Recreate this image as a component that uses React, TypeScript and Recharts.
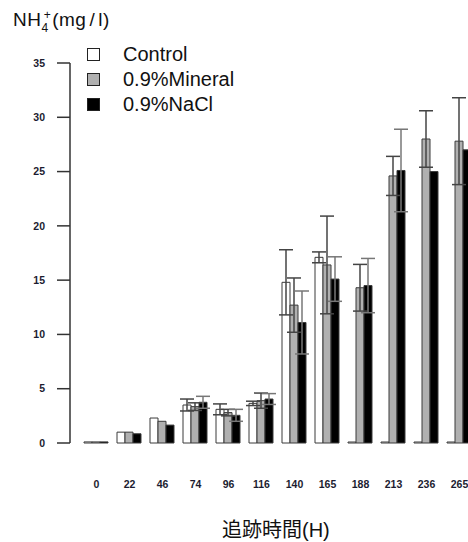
import { BarChart, Bar, XAxis, YAxis, ErrorBar } from 'recharts'

const hours = ['0', '22', '46', '74', '96', '116', '140', '165', '188', '213', '236', '265']
const control = [0.1, 1.0, 2.3, 3.5, 3.1, 3.65, 14.8, 17.1, 0, 0, 0, 0]
const controlErr = [0, 0, 0, 0.55, 0.5, 0.2, 3.0, 0.5, 0, 0, 0, 0]
const mineral = [0.1, 1.0, 2.0, 3.35, 2.8, 3.9, 12.7, 16.4, 14.3, 24.6, 28.0, 27.8]
const mineralErr = [0, 0, 0, 0.35, 0.3, 0.7, 2.5, 4.5, 2.15, 1.8, 2.6, 4.0]
const nacl = [0.1, 0.85, 1.65, 3.75, 2.55, 4.05, 11.1, 15.1, 14.5, 25.1, 25.0, 27.0]
const naclErr = [0, 0, 0, 0.55, 0.55, 0.5, 2.9, 2.05, 2.5, 3.8, 0, 0]
const yTicks = [0, 5, 10, 15, 20, 25, 30, 35]

const data = hours.map((h, i) => ({
  hour: h,
  control: control[i],
  controlErr: controlErr[i],
  mineral: mineral[i],
  mineralErr: mineralErr[i],
  nacl: nacl[i],
  naclErr: naclErr[i],
}))

const FONT = '"Liberation Sans", Arial, sans-serif'

// path instead of rect so zero-height bars still show as a line
function BarShape(props: any) {
  const { x, y, width, height, fill } = props
  if (x == null || y == null) return null
  const h = height || 0
  return (
    <path
      d={`M${x},${y}h${width}v${h}h${-width}Z`}
      fill={fill}
      stroke="#3a3a3a"
      strokeWidth={1}
    />
  )
}

const legendItems = [
  { label: 'Control', fill: '#ffffff' },
  { label: '0.9%Mineral', fill: '#b0b0b0' },
  { label: '0.9%NaCl', fill: '#000000' },
]

export default function App() {
  return (
    <div
      style={{
        position: 'absolute',
        left: 0,
        top: 0,
        width: 468,
        height: 542,
        overflow: 'hidden',
        background: '#fff',
        fontFamily: FONT,
      }}
    >
      <BarChart
        width={480}
        height={542}
        data={data}
        margin={{ top: 63, right: 4, left: 0, bottom: 0 }}
        barCategoryGap={4}
        barGap={0}
      >
        <XAxis
          dataKey="hour"
          height={99}
          axisLine={false}
          tickLine={false}
          tickSize={0}
          tickMargin={38}
          padding={{ left: 10, right: 0 }}
          interval={0}
          tick={{ fontSize: 10.5, fontWeight: 'bold', fill: '#1c1c30', fontFamily: FONT }}
        />
        <YAxis
          width={70}
          domain={[0, 35]}
          ticks={yTicks}
          interval={0}
          tickSize={13}
          tickMargin={12}
          axisLine={{ stroke: '#333', strokeWidth: 1.5 }}
          tickLine={{ stroke: '#333', strokeWidth: 1.5 }}
          tick={{ fontSize: 10.5, fontWeight: 'bold', fill: '#1c1c30', fontFamily: FONT }}
        />
        <Bar
          dataKey="control"
          fill="#ffffff"
          shape={BarShape}
          minPointSize={1}
          isAnimationActive={false}
        >
          <ErrorBar dataKey="controlErr" width={7} stroke="#444" strokeWidth={1.5} />
        </Bar>
        <Bar dataKey="mineral" fill="#b0b0b0" shape={BarShape} isAnimationActive={false}>
          <ErrorBar dataKey="mineralErr" width={7} stroke="#444" strokeWidth={1.5} />
        </Bar>
        <Bar dataKey="nacl" fill="#000000" shape={BarShape} isAnimationActive={false}>
          <ErrorBar dataKey="naclErr" width={7} stroke="#777" strokeWidth={1.5} />
        </Bar>
      </BarChart>

      <div
        style={{
          position: 'absolute',
          left: 13,
          top: 10,
          fontSize: 19,
          lineHeight: '20px',
          letterSpacing: 0.5,
          color: '#111',
          whiteSpace: 'nowrap',
        }}
      >
        NH
        <span style={{ position: 'relative', top: 6, fontSize: 12, lineHeight: '12px' }}>4</span>
        <span
          style={{
            position: 'relative',
            top: -7,
            fontSize: 12,
            lineHeight: '12px',
            marginLeft: -5,
            marginRight: 1,
          }}
        >
          +
        </span>
        (mg<span style={{ margin: '0 3px' }}>/</span>l)
      </div>

      {legendItems.map((item, i) => (
        <div
          key={item.label}
          style={{
            position: 'absolute',
            left: 87,
            top: 42 + i * 25,
            height: 24,
            display: 'flex',
            alignItems: 'center',
            fontSize: 20,
            color: '#111',
            whiteSpace: 'nowrap',
          }}
        >
          <span
            style={{
              display: 'inline-block',
              width: 11,
              height: 11,
              background: item.fill,
              border: '1px solid #222',
              marginRight: 23,
            }}
          />
          {item.label}
        </div>
      ))}

      <div
        style={{
          position: 'absolute',
          left: 222,
          top: 519,
          fontSize: 20,
          color: '#111',
          whiteSpace: 'nowrap',
          lineHeight: '20px',
        }}
      >
        <span style={{ fontFamily: '"Noto Sans CJK JP", sans-serif' }}>追跡時間</span>
        <span style={{ fontFamily: FONT }}>(H)</span>
      </div>
    </div>
  )
}
